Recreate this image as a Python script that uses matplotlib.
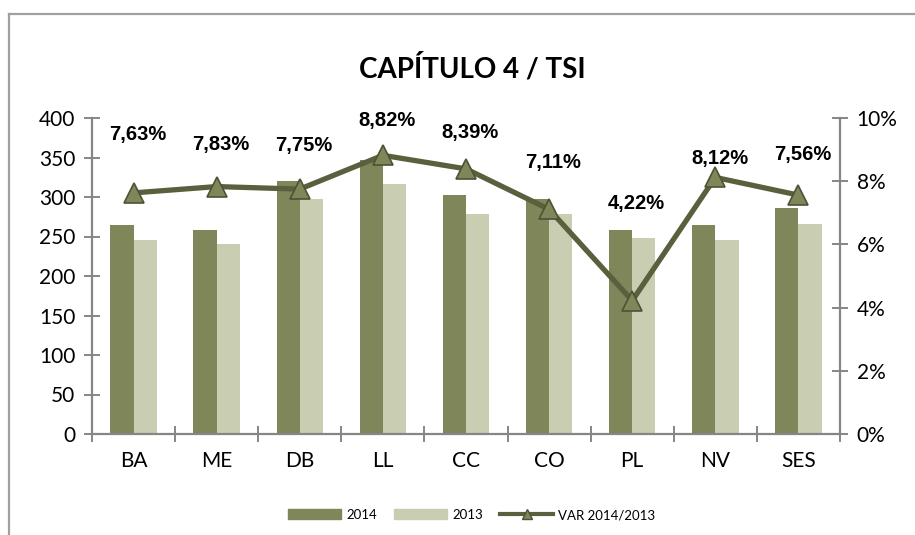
import numpy as np
import matplotlib
matplotlib.use("Agg")
import matplotlib.pyplot as plt
from matplotlib.lines import Line2D
from matplotlib.patches import Patch

categories = ["BA", "ME", "DB", "LL", "CC", "CO", "PL", "NV", "SES"]
v2014 = [265, 258, 320, 347, 302, 298, 258, 265, 286]
v2013 = [246, 240, 297, 316, 279, 278, 248, 246, 266]
var_pct = [7.63, 7.83, 7.75, 8.82, 8.39, 7.11, 4.22, 8.12, 7.56]
var_labels = ["7,63%", "7,83%", "7,75%", "8,82%", "8,39%", "7,11%", "4,22%", "8,12%", "7,56%"]

# label offsets above each point (pixels), placed by hand in the original
label_dy = [58, 42, 44, 35, 36, 47, 97, 19, 41]

dark = "#7F8659"
light = "#C9CDB2"
line_c = "#5B5F3D"
axis_c = "#868686"
tick_font = "Lato"

fig = plt.figure(figsize=[9.15, 5.35], dpi=100)
ax = fig.add_axes([92/915, 101/535, 748/915, 316/535])
ax2 = ax.twinx()

x = np.arange(len(categories))
w = 0.28
ax.bar(x - w/2, v2014, w, color=dark, label="2014", zorder=2)
ax.bar(x + w/2, v2013, w, color=light, label="2013", zorder=2)

ax2.plot(x, var_pct, color=line_c, lw=3.8, marker="^", ms=14,
         mfc=dark, mec="#4E5234", mew=1.2, label="VAR 2014/2013", zorder=3)
for xi, yi, lab, dy in zip(x, var_pct, var_labels, label_dy):
    ax2.annotate(lab, (xi, yi), xytext=(3, dy*0.72), textcoords="offset points",
                 ha="center", va="center", fontsize=14.5, fontweight="bold",
                 family="Liberation Sans", color="black")

ax.set_xlim(-0.5, len(categories) - 0.5)
ax.set_ylim(0, 400)
ax2.set_ylim(0, 10)
ax.set_yticks(np.arange(0, 401, 50))
ax2.set_yticks(np.arange(0, 11, 2))
ax2.set_yticklabels([f"{int(t)}%" for t in np.arange(0, 11, 2)])
ax.set_xticks(x)
ax.set_xticklabels(categories)
ax.set_xticks(np.arange(-0.5, len(categories), 1), minor=True)

for a in (ax, ax2):
    for s in a.spines.values():
        s.set_visible(False)
ax.spines["left"].set_visible(True)
ax.spines["bottom"].set_visible(True)
ax2.spines["right"].set_visible(True)
for s in (ax.spines["left"], ax.spines["bottom"], ax2.spines["right"]):
    s.set_color(axis_c)
    s.set_linewidth(1.6)

ax.tick_params(axis="y", direction="inout", length=12, width=1.4, color=axis_c,
               labelsize=15, pad=6)
ax2.tick_params(axis="y", direction="inout", length=12, width=1.4, color=axis_c,
                labelsize=15, pad=6)
ax.tick_params(axis="x", which="major", length=0, labelsize=15, pad=12)
ax.tick_params(axis="x", which="minor", direction="inout", length=12, width=1.4,
               color=axis_c)
for lab in ax.get_yticklabels() + ax2.get_yticklabels() + ax.get_xticklabels():
    lab.set_family(tick_font)

fig.text(472/915, 1 - 68/535, "CAPÍTULO 4 / TSI", ha="center", va="center",
         fontsize=20, fontweight="bold", family=tick_font)

handles = [Patch(color=dark, label="2014"), Patch(color=light, label="2013"),
           Line2D([0], [0], color=line_c, lw=3, marker="^", ms=7, mfc=dark,
                  mec="#4E5234", label="VAR 2014/2013")]
leg = fig.legend(handles=handles, loc="center", bbox_to_anchor=(472/915, 1 - 515/535),
                 ncol=3, frameon=False, prop={"family": tick_font, "size": 9.5},
                 handlelength=4.0, handleheight=0.8, columnspacing=1.3, handletextpad=0.4)

# outer chart frame (only top and left edges visible in the crop)
fig.add_artist(Line2D([9/915, 1.0], [1 - 14/535, 1 - 14/535], color="#A0A0A0", lw=1.6,
                      transform=fig.transFigure))
fig.add_artist(Line2D([9/915, 9/915], [0, 1 - 14/535], color="#A0A0A0", lw=1.6,
                      transform=fig.transFigure))

fig.savefig("out.png", dpi=100)
